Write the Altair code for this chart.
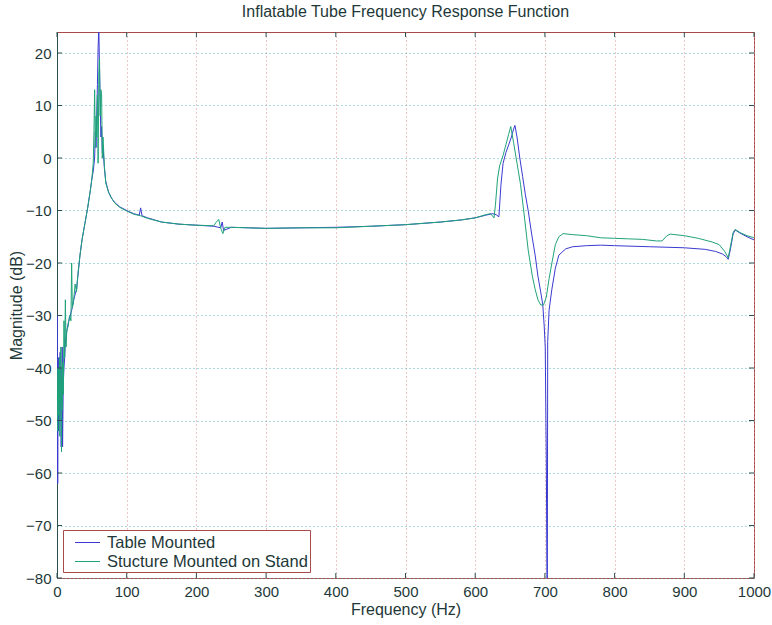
import altair as alt
import pandas as pd

title_text = "Inflatable Tube Frequency Response Function"
x_title = "Frequency (Hz)"
y_title = "Magnitude (dB)"
series_names = ["Table Mounted", "Stucture Mounted on Stand"]
series_colors = ["#3a3ad2", "#1fa37a"]

x_ticks = [0, 100, 200, 300, 400, 500, 600, 700, 800, 900, 1000]
y_ticks = [-80, -70, -60, -50, -40, -30, -20, -10, 0, 10, 20]

# Table Mounted
freq_table = [
    0.5, 1, 1.5, 2, 2.5, 3, 3.5, 4, 4.5, 5,
    5.5, 6, 6.5, 7, 7.5, 8, 9, 10, 11, 12,
    13, 14, 16, 18, 20, 22, 24, 26, 28, 30,
    33, 36, 40, 44, 48, 50, 52, 54, 55, 56,
    57, 58, 59, 60, 61, 62, 63, 64, 65, 66,
    68, 70, 74, 78, 83, 90, 100, 110, 118, 120,
    122, 130, 150, 175, 200, 225, 235, 237, 239, 250,
    275, 300, 350, 400, 450, 500, 550, 580, 600, 615,
    625, 630, 634, 637, 640, 644, 648, 652, 655, 657,
    660, 664, 668, 672, 676, 681, 686, 690, 694, 697,
    699, 700.5, 702, 703, 703.5, 704, 706, 710, 715, 720,
    730, 740, 760, 780, 800, 850, 900, 930, 945, 955,
    960, 963, 966, 970, 973, 980, 990, 1000,
]
mag_table = [
    -30, -62, -42, -52, -38, -48, -41, -50, -37, -45,
    -40, -55, -42, -48, -36, -55, -43, -40, -38, -35,
    -34, -33, -31.5, -30.5, -29.5, -28.5, -27, -26, -25, -22.5,
    -18.5, -15.5, -12.5, -9.5, -6, -4, -2.5, 0, 5, 2,
    8, 14, 21, 25, 17, 10, 4, 6, 1, 2,
    -2, -4.5, -6.5, -7.6, -8.5, -9.3, -10, -10.6, -10.9, -9.5,
    -11, -11.4, -12.2, -12.6, -12.8, -13, -13.3, -12.2, -13.8, -13.2,
    -13.3, -13.4, -13.3, -13.2, -13.0, -12.7, -12.2, -11.8, -11.4, -10.9,
    -10.6, -10.8, -11.2, -5, -1, 1, 2.5, 4, 5.5, 6.2,
    4, 0, -3.5, -7, -10, -14.5, -18.5, -22.5, -25.5, -28,
    -32, -36, -57, -80, -80, -35, -29, -25, -21, -18.5,
    -17.3, -16.9, -16.7, -16.6, -16.7, -16.9, -17.1, -17.4, -17.8, -18.3,
    -18.8, -19.3, -17.5, -14.5, -13.7, -14.3, -15, -15.6,
]

# Structure Mounted on Stand
freq_stand = [
    0.5, 1, 1.5, 2, 2.5, 3, 3.5, 4, 4.5, 5,
    5.5, 6, 6.5, 7, 7.5, 8, 9, 10, 11, 12,
    13, 14, 16, 18, 20, 21, 22, 24, 26, 28,
    30, 33, 36, 40, 44, 48, 50, 52, 53, 54,
    55, 56, 57, 58, 59, 60, 61, 62, 63, 64,
    65, 66, 68, 70, 74, 78, 83, 90, 100, 110,
    120, 130, 150, 175, 200, 225, 228, 232, 235, 238,
    241, 250, 275, 300, 350, 400, 450, 500, 550, 580,
    600, 615, 622, 627, 629, 632, 635, 640, 644, 648,
    651, 655, 660, 665, 670, 676, 682, 686, 690, 694,
    698, 702, 706, 710, 715, 720, 726, 740, 760, 780,
    800, 820, 840, 860, 868, 875, 880, 900, 920, 940,
    950, 958, 963, 966, 970, 973, 980, 990, 1000,
]
mag_stand = [
    -40, -52, -45, -49, -40, -46, -38, -53, -41, -47,
    -36, -44, -56, -42, -48, -39, -45, -31, -38, -27,
    -36, -33, -32, -30, -31, -20, -28.5, -27, -24, -25.5,
    -22, -18.5, -15.5, -12.5, -9.5, -6, -4, -1, 5, 13,
    2, 8, 4, 12, -1, 16, 19, 8, 13, 12,
    0, 4, -1.5, -4.8, -6.5, -7.6, -8.6, -9.4, -10.1, -10.7,
    -11, -11.5, -12.2, -12.6, -12.8, -12.9, -12.3, -11.7, -13.4, -14.4,
    -13.2, -13.2, -13.3, -13.4, -13.3, -13.3, -13.0, -12.7, -12.2, -11.8,
    -11.4, -10.8, -10.6, -11.4, -9, -4, -1.5, 0.5, 2.5, 4.5,
    6, 3, -1, -5, -10.5, -17.5, -22.5, -25, -27, -28,
    -28, -26.5, -23, -20, -16.5, -15, -14.4, -14.6, -14.8, -15.2,
    -15.3, -15.4, -15.5, -15.8, -15.8, -14.8, -14.5, -14.8, -15.3, -16,
    -16.5, -17.8, -19, -17, -14.2, -13.6, -14.2, -14.8, -15.2,
]

assert len(freq_table) == len(mag_table)
assert len(freq_stand) == len(mag_stand)

df_table = pd.DataFrame({"freq": freq_table, "mag": mag_table, "series": series_names[0]})
df_stand = pd.DataFrame({"freq": freq_stand, "mag": mag_stand, "series": series_names[1]})
df_xt = pd.DataFrame({"freq": x_ticks})
df_yt = pd.DataFrame({"mag": y_ticks})

W, H = 697, 546
FONT = "Liberation Sans"
TEXT = "#1e3838"
FRAME = "#a84a4a"
TICK = "#2e4f4f"

x_scale = alt.Scale(domain=[0, 1000], nice=False, zero=False)
y_scale = alt.Scale(domain=[-80, 24], nice=False, zero=False)
color_scale = alt.Scale(domain=series_names, range=series_colors)

x_axis = alt.Axis(
    title=x_title, values=x_ticks, format="d", grid=True, gridColor="#d98e8e",
    gridDash=[1, 3], gridWidth=1, ticks=False, domain=False, labelFlush=False,
    labelPadding=6, labelFontSize=15, titleFontSize=16, titlePadding=2,
    labelFont=FONT, titleFont=FONT, labelColor=TEXT, titleColor=TEXT,
    titleFontWeight="normal",
)
y_axis = alt.Axis(
    title=y_title, values=y_ticks, format="d", grid=True, gridColor="#5fb5b5",
    gridDash=[1, 3], gridWidth=1, ticks=False, domain=True, domainColor=TICK,
    labelPadding=6, labelFontSize=15, titleFontSize=16, titlePadding=1,
    labelFont=FONT, titleFont=FONT, labelColor=TEXT, titleColor=TEXT,
    titleFontWeight="normal",
)
legend = alt.Legend(
    title=None, orient="bottom-left", offset=6, padding=2,
    symbolType="M-0.05,0L2.45,0", symbolSize=400, symbolStrokeWidth=1,
    labelOffset=21, labelFontSize=16.5, labelFont=FONT, labelColor=TEXT, labelLimit=0,
    strokeColor=FRAME, fillColor="white", rowPadding=0, cornerRadius=0,
)

enc_x = alt.X("freq:Q", scale=x_scale, axis=x_axis)
enc_y = alt.Y("mag:Q", scale=y_scale, axis=y_axis)
enc_c = alt.Color("series:N", scale=color_scale, legend=legend)

table_line = alt.Chart(df_table).mark_line(strokeWidth=1, clip=True).encode(
    x=enc_x, y=enc_y, color=enc_c
)
stand_line = alt.Chart(df_stand).mark_line(strokeWidth=1, clip=True).encode(
    x=enc_x, y=enc_y, color=enc_c
)

xb = alt.Chart(df_xt).mark_rule(color=TICK, strokeWidth=1).encode(
    x=enc_x, y=alt.value(H), y2=alt.value(H - 5)
)
xt = alt.Chart(df_xt).mark_rule(color=TICK, strokeWidth=1).encode(
    x=enc_x, y=alt.value(0), y2=alt.value(5)
)
yl = alt.Chart(df_yt).mark_rule(color=TICK, strokeWidth=1).encode(
    y=enc_y, x=alt.value(0), x2=alt.value(5)
)
yr = alt.Chart(df_yt).mark_rule(color=TICK, strokeWidth=1).encode(
    y=enc_y, x=alt.value(W), x2=alt.value(W - 5)
)

chart = alt.layer(table_line, stand_line, xb, xt, yl, yr).properties(
    width=W, height=H,
    title=alt.TitleParams(
        text=title_text, fontSize=16, font=FONT, fontWeight="normal", color=TEXT,
        anchor="middle", offset=12,
    ),
    autosize=alt.AutoSizeParams(type="none"),
    padding={"left": 57, "top": 32, "right": 18, "bottom": 47},
).configure(background="white").configure_view(stroke=FRAME, strokeWidth=1)

chart.save("out.html", embed_options={"renderer": "svg", "actions": False})
